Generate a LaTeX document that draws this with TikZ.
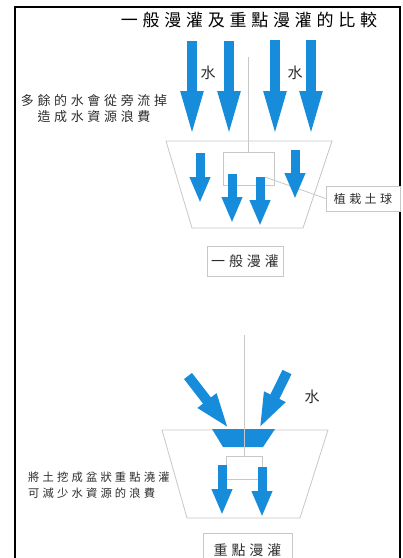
\documentclass[tikz,border=0pt]{standalone}
\usepackage{fontspec}
\newfontfamily\cjk{Noto Sans CJK TC}[LetterSpace=28]
\usetikzlibrary{arrows.meta}
\definecolor{wblue}{RGB}{22,140,218}
\definecolor{lgrey}{RGB}{200,200,200}
\definecolor{txt}{RGB}{45,45,45}
\tikzset{
  gline/.style={draw=lgrey, line width=0.8pt},
  gbox/.style={draw=lgrey, line width=0.8pt, inner sep=0pt, text=txt},
  lbl/.style={inner sep=0pt, text=txt},
  bigarrow/.style={draw=wblue, line width=10pt, -{Triangle[length=47pt, width=20pt, fill=wblue]}},
  midarrow/.style={draw=wblue, line width=10pt, -{Triangle[length=36pt, width=21pt, fill=wblue]}},
  smallarrow/.style={draw=wblue, line width=9pt, -{Triangle[length=26pt, width=19pt, fill=wblue]}},
}
\begin{document}
\begin{tikzpicture}[x=1pt, y=-1pt]
\useasboundingbox (0,0) rectangle (403,558);
\fill[white] (0,0) rectangle (403,558);
% frame
\draw[line width=1.6pt] (15,575) -- (15,7) -- (400,7) -- (400,575);

% title
\node[inner sep=0pt, font={\cjk\fontsize{17}{20}\selectfont}] (title) at (249,20) {一般漫灌及重點漫灌的比較};

% ===== upper diagram =====
\draw[gline] (166,141) -- (332,141) -- (303,228) -- (192,228) -- cycle;
\node[gbox, minimum width=51pt, minimum height=33pt] (soil) at (248.5,168.5) {};
\coordinate (vtop) at (248.5,57);
\draw[gline] (vtop) -- (soil.north);
\node[gbox, minimum width=74pt, minimum height=25pt, fill=white, font={\cjk\fontsize{12}{14}\selectfont}] (soillab) at (363,198.5)
  {植栽土球};
\coordinate (lead) at (265,177);
\draw[gline] (lead) -- (soillab.west);

% top arrows
\coordinate (a1s) at (192,41); \coordinate (a1e) at (192,138);
\coordinate (a2s) at (229,41); \coordinate (a2e) at (229,138);
\coordinate (a3s) at (275,40); \coordinate (a3e) at (275,138);
\coordinate (a4s) at (311,40); \coordinate (a4e) at (311,138);
\draw[bigarrow] (a1s) -- (a1e);
\draw[bigarrow] (a2s) -- (a2e);
\draw[bigarrow] (a3s) -- (a3e);
\draw[bigarrow] (a4s) -- (a4e);
\node[lbl, font={\cjk\fontsize{15}{17}\selectfont}] (w1) at (208,73) {水};
\node[lbl, font={\cjk\fontsize{15}{17}\selectfont}] (w2) at (295,73) {水};

% inner arrows
\coordinate (b1s) at (200,153); \coordinate (b1e) at (200,203);
\coordinate (b2s) at (232,174); \coordinate (b2e) at (232,223);
\coordinate (b3s) at (260,177); \coordinate (b3e) at (260,226);
\coordinate (b4s) at (295,150); \coordinate (b4e) at (295,199);
\draw[smallarrow] (b1s) -- (b1e);
\draw[smallarrow] (b2s) -- (b2e);
\draw[smallarrow] (b3s) -- (b3e);
\draw[smallarrow] (b4s) -- (b4e);

\node[lbl, align=center, font={\cjk\fontsize{13}{16}\selectfont}] (note1) at (94,109)
  {多餘的水會從旁流掉\\造成水資源浪費};

\node[gbox, minimum width=76pt, minimum height=30pt, font={\cjk\fontsize{14}{16}\selectfont}] (cap1) at (245,261)
  {一般漫灌};

% ===== lower diagram =====
\draw[gline] (162,430) -- (328,430) -- (300,518) -- (187,518) -- cycle;
\node[gbox, minimum width=36pt, minimum height=23pt] (soil2) at (244,467.5) {};
\fill[wblue] (212,429) -- (275,429) -- (263,447) -- (223,447) -- cycle;
\coordinate (vtop2) at (244,335);
\draw[gline] (vtop2) -- (soil2.north);

\coordinate (c1s) at (188,376); \coordinate (c1e) at (229,429);
\coordinate (c2s) at (287,372); \coordinate (c2e) at (259,429);
\draw[midarrow] (c1s) -- (c1e);
\draw[midarrow] (c2s) -- (c2e);
\node[lbl, font={\cjk\fontsize{15}{17}\selectfont}] (w3) at (312,397) {水};

\coordinate (d1s) at (222,465); \coordinate (d1e) at (222,515);
\coordinate (d2s) at (262,467); \coordinate (d2e) at (262,517);
\draw[smallarrow] (d1s) -- (d1e);
\draw[smallarrow] (d2s) -- (d2e);

\node[lbl, align=left, anchor=west, font={\cjk\fontsize{11.3}{16}\selectfont}] (note2) at (28,485)
  {將土挖成盆狀重點澆灌\\可減少水資源的浪費};

\node[gbox, minimum width=89pt, minimum height=34pt, font={\cjk\fontsize{14}{16}\selectfont}] (cap2) at (247.5,550)
  {重點漫灌};
\end{tikzpicture}
\end{document}
